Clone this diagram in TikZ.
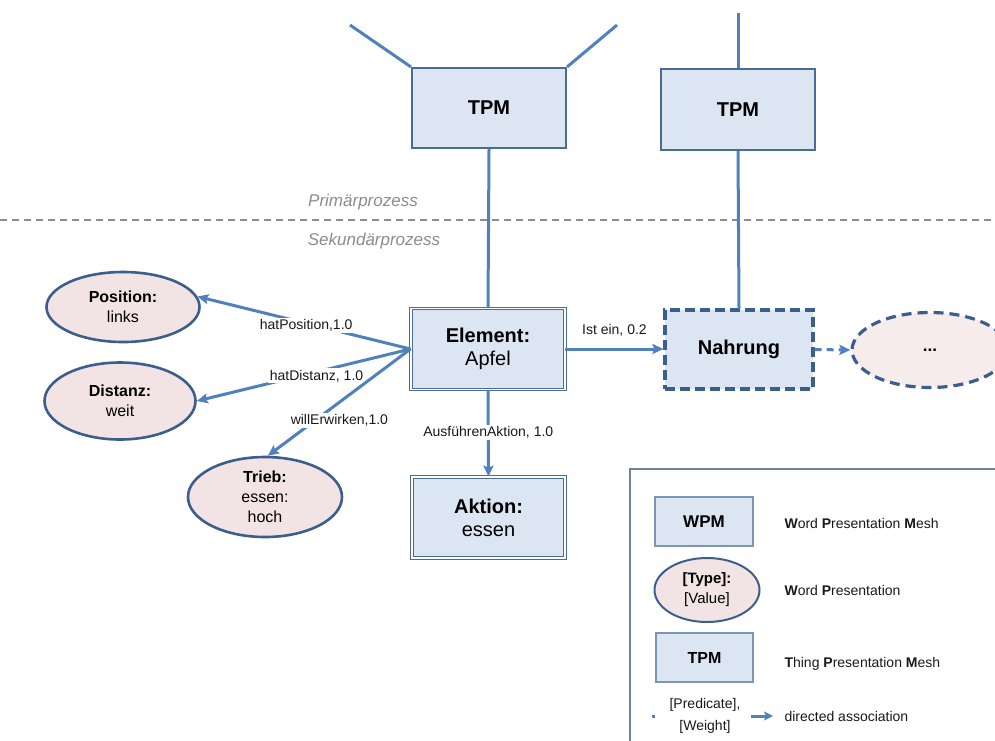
\documentclass[tikz,border=0pt]{standalone}
\usepackage{fontspec}
\setmainfont{Liberation Sans}
\usetikzlibrary{arrows.meta,shapes.geometric}

\definecolor{boxfill}{HTML}{DCE6F2}
\definecolor{boxline}{HTML}{4A6B93}
\definecolor{wpfill}{HTML}{F2E4E4}
\definecolor{wpline}{HTML}{3C5E8C}
\definecolor{conn}{HTML}{4F81BD}
\definecolor{sepgray}{HTML}{8C8C8C}
\definecolor{legline}{HTML}{6F8298}
\definecolor{legbox}{HTML}{7D95B5}

\tikzset{
  tpmbox/.style={draw=boxline, line width=2.2pt, fill=boxfill, inner sep=0pt,
    font=\fontsize{20}{24}\selectfont\bfseries},
  wpmbox/.style={draw=boxline, line width=0.9pt, double=white, double distance=1.4pt,
    fill=boxfill, inner sep=0pt, align=center, font=\fontsize{20}{23}\selectfont},
  guessbox/.style={draw=wpline, line width=3.2pt, dash pattern=on 10pt off 5pt,
    fill=boxfill, inner sep=0pt, font=\fontsize{20}{24}\selectfont\bfseries},
  wpnode/.style={ellipse, draw=wpline, line width=2.6pt, fill=wpfill, inner sep=0pt},
  wptext/.style={align=center, font=\fontsize{16}{20}\selectfont, inner sep=0pt},
  conn/.style={draw=conn, line width=3pt},
  arr/.style={conn, -{Stealth[length=11pt,width=10pt,inset=2pt]}},
  lbl/.style={fill=white, inner sep=1.5pt, font=\fontsize{14}{16}\selectfont, text=black!90},
  zone/.style={font=\fontsize{17}{20}\selectfont\itshape, text=sepgray},
  legitem/.style={draw=legbox, line width=1.4pt, fill=boxfill, inner sep=0pt},
  legtext/.style={anchor=west, font=\fontsize{14}{16}\selectfont, text=black!90},
}

\begin{document}
\begin{tikzpicture}[x=1pt, y=-1pt]
  \useasboundingbox (0,0) rectangle (995,740);
  \clip (0,0) rectangle (995,740);

  % boundary between primary and secondary process
  \coordinate (sepL) at (0,220);
  \coordinate (sepR) at (995,220);
  \draw[sepgray, line width=1.6pt, dash pattern=on 7pt off 5pt] (sepL) -- (sepR);
  \node[zone] (prim) at (363,202) {Primärprozess};
  \node[zone] (sek) at (374,241) {Sekundärprozess};

  % thing presentation meshes
  \node[tpmbox, minimum width=154pt, minimum height=80pt] (tpmA) at (489,108) {TPM};
  \node[tpmbox, minimum width=154pt, minimum height=81pt] (tpmB) at (738,109.5) {TPM};
  \coordinate (tpmAleft) at (350,25);
  \coordinate (tpmAright) at (617,25);
  \coordinate (tpmBtop) at (738,13);
  \draw[conn] (tpmA.north west) -- (tpmAleft);
  \draw[conn] (tpmA.north east) -- (tpmAright);
  \draw[conn] (tpmB.north) -- (tpmBtop);

  % word presentation meshes
  \node[wpmbox, minimum width=154pt, minimum height=81pt] (elem) at (488,349)
    {\textbf{Element:}\\Apfel};
  \node[guessbox, minimum width=148pt, minimum height=79pt] (nahr) at (739,349.5) {Nahrung};
  \node[wpmbox, minimum width=153pt, minimum height=81pt] (akt) at (488.5,517.5)
    {\textbf{Aktion:}\\essen};

  % word presentations
  \node[wpnode, minimum width=153pt, minimum height=70pt,
        label={[wptext]center:{\textbf{Position:}\\links}}] (posi) at (123,307) {};
  \node[wpnode, minimum width=151pt, minimum height=77pt,
        label={[wptext]center:{\textbf{Distanz:}\\weit}}] (dist) at (120,401) {};
  \node[wpnode, minimum width=154pt, minimum height=80pt,
        label={[wptext]center:{\textbf{Trieb:}\\essen:\\hoch}}] (trieb) at (265,497) {};
  \node[wpnode, draw=wpline, line width=3.2pt, dash pattern=on 10pt off 6pt,
        fill=wpfill!70, minimum width=156pt, minimum height=75pt,
        font=\fontsize{17}{20}\selectfont\bfseries] (more) at (930,350) {...};

  % vertical links between the levels
  \draw[conn] (tpmA.south) -- (elem.north);
  \draw[conn] (tpmB.south) -- (nahr.north);

  % associations
  \draw[arr] (elem.west) -- node[lbl, pos=0.49, yshift=-2pt] {hatPosition,1.0} (posi.8);
  \draw[arr] (elem.west) -- node[lbl, pos=0.44, yshift=-4pt] {hatDistanz, 1.0} (dist.east);
  \draw[arr] (elem.west) -- node[lbl, pos=0.667, xshift=24pt] {willErwirken,1.0} (trieb.86);
  \draw[arr] (elem.south) -- node[lbl, pos=0.49] {AusführenAktion, 1.0} (akt.north);
  \draw[arr] (elem.east) -- node[lbl, fill=none, above=10pt] {Ist ein, 0.2} (elem.east -| nahr.west);
  \draw[arr, dash pattern=on 7pt off 5pt] (nahr.east) -- (more.west);

  % legend
  \draw[legline, line width=1.6pt] (630,469) rectangle (1005,750);
  \node[legitem, minimum width=98pt, minimum height=49pt,
        font=\fontsize{17}{20}\selectfont\bfseries] (legwpm) at (704,521.5) {WPM};
  \node[legtext] (legwpmtxt) at (781,523) {\textbf{W}ord \textbf{P}resentation \textbf{M}esh};
  \node[wpnode, line width=2pt, minimum width=105pt, minimum height=64pt,
        label={[wptext, font=\fontsize{15}{20}\selectfont]center:{\textbf{[Type]:}\\{}[Value]}}]
        (legwp) at (707,590) {};
  \node[legtext] (legwptxt) at (781,590) {\textbf{W}ord \textbf{P}resentation};
  \node[legitem, minimum width=97pt, minimum height=49pt,
        font=\fontsize{16}{20}\selectfont\bfseries] (legtpm) at (704.5,657.5) {TPM};
  \node[legtext] (legtpmtxt) at (781,664) {\textbf{T}hing \textbf{P}resentation \textbf{M}esh};
  \node[fill=conn, inner sep=0pt, minimum size=3pt] (legdot) at (653,716) {};
  \node[align=center, font=\fontsize{14}{22}\selectfont, text=black!90] (legpred) at (705,716)
    {[Predicate],\\{}[Weight]};
  \coordinate (legarrA) at (751,716);
  \coordinate (legarrB) at (773,716);
  \draw[conn, -{Stealth[length=9pt,width=9pt,inset=2pt]}] (legarrA) -- (legarrB);
  \node[legtext] (legarrtxt) at (781,716) {directed association};
\end{tikzpicture}
\end{document}
